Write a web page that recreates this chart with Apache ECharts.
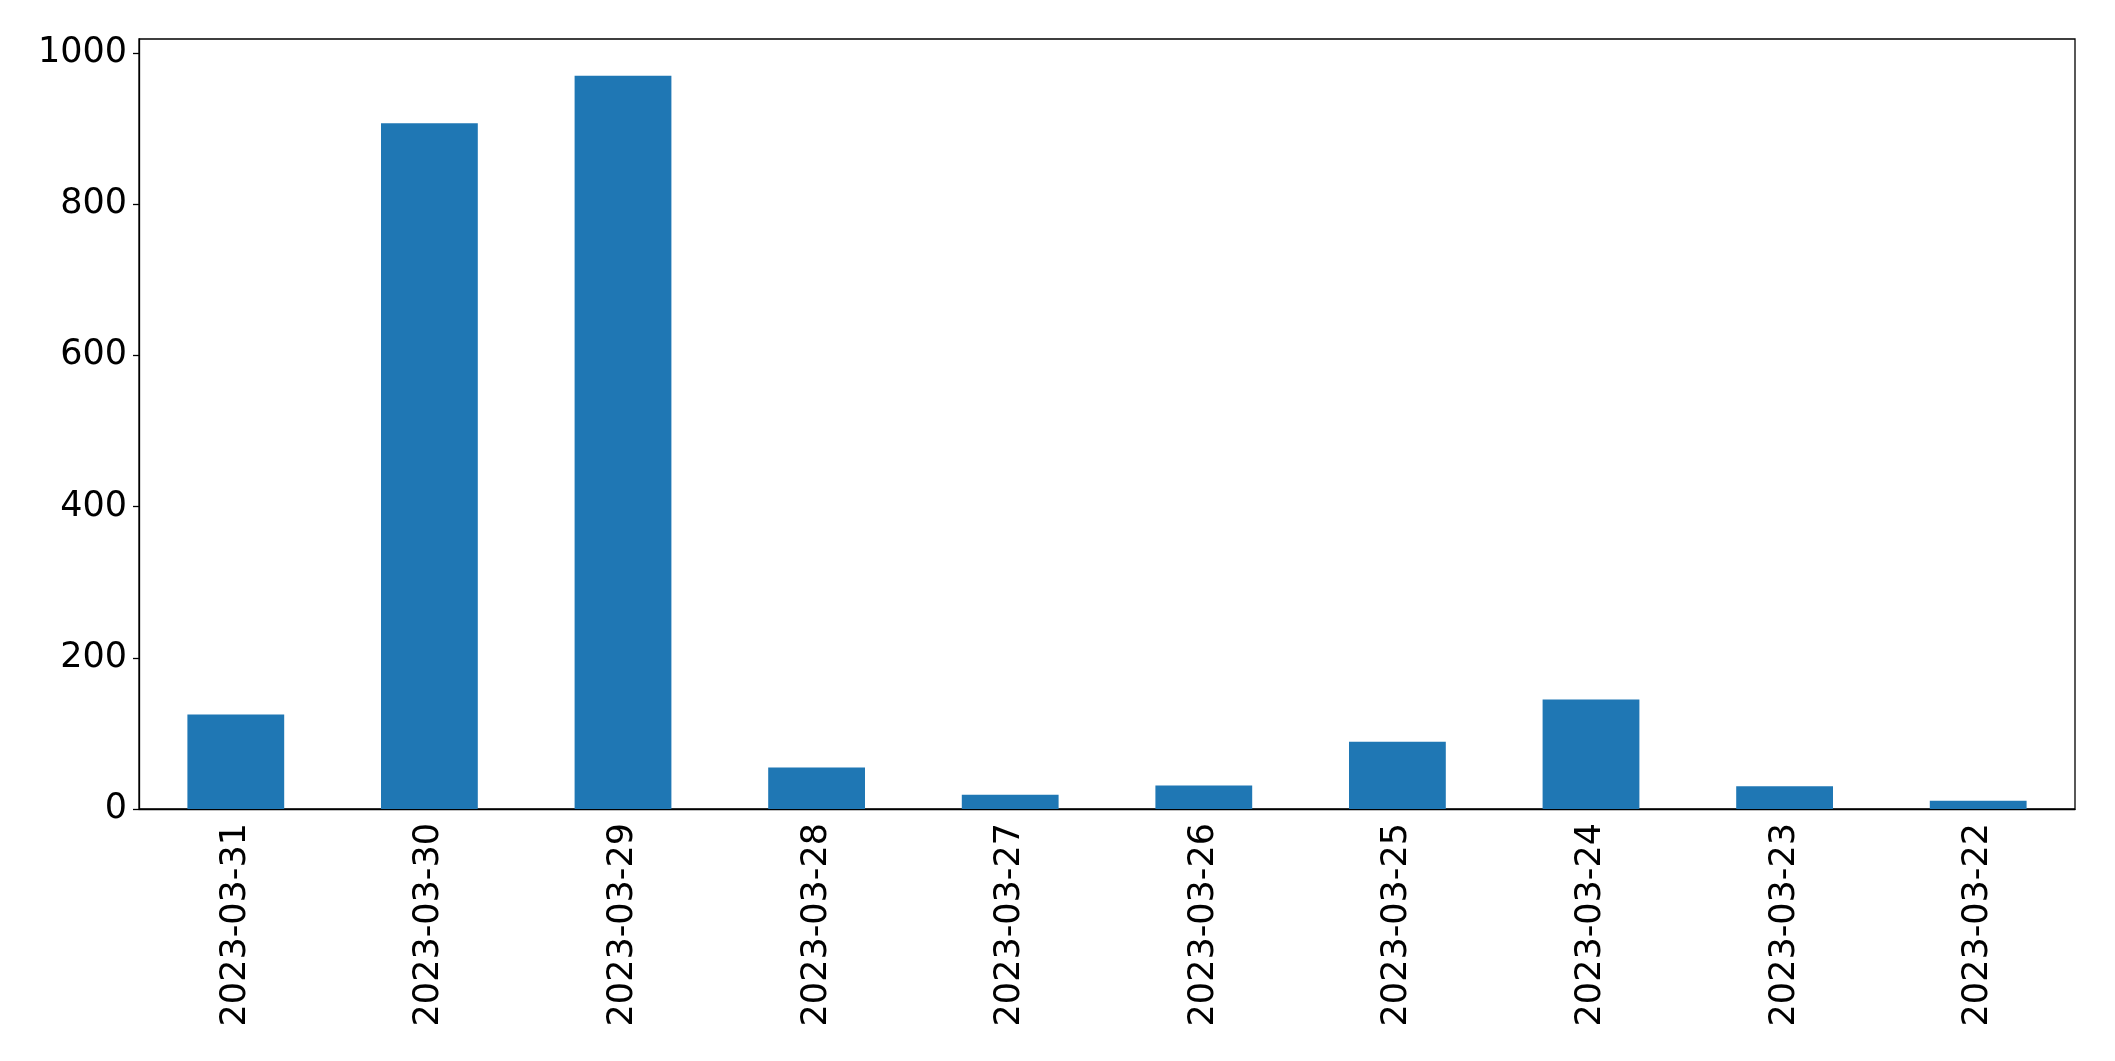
<!DOCTYPE html>
<html>
<head>
<meta charset="utf-8">
<script src="https://cdn.jsdelivr.net/npm/echarts@6/dist/echarts.min.js"></script>
<style>
html,body{margin:0;padding:0;background:#fff;}
#chart{width:2115px;height:1061px;}
</style>
</head>
<body>
<div id="chart"></div>
<script>
const categories = ['2023-03-31','2023-03-30','2023-03-29','2023-03-28','2023-03-27','2023-03-26','2023-03-25','2023-03-24','2023-03-23','2023-03-22'];
const values = [125, 907, 970, 55, 19, 31, 89, 145, 30, 11];
const yTicks = [0, 200, 400, 600, 800, 1000];

const chart = echarts.init(document.getElementById('chart'), null, {renderer: 'canvas'});
const yMax = Math.max(...values) * 1.05;
chart.setOption({
  animation: false,
  textStyle: {fontFamily: 'DejaVu Sans'},
  grid: {left: 139, right: 40, top: 39, bottom: 252, show: true, borderColor: '#000', borderWidth: 1.3, backgroundColor: 'transparent'},
  xAxis: {
    type: 'category',
    data: categories,
    boundaryGap: true,
    axisLine: {lineStyle: {color: '#000', width: 1.3}},
    axisTick: {alignWithLabel: true, length: 6, lineStyle: {color: '#000', width: 1.3}},
    axisLabel: {rotate: 90, color: '#000', fontSize: 35, margin: 14, fontFamily: 'DejaVu Sans', interval: 0},
    splitLine: {show: false}
  },
  yAxis: {
    type: 'value',
    min: 0,
    max: yMax,
    interval: 200,
    axisLine: {show: true, lineStyle: {color: '#000', width: 1.3}},
    axisTick: {show: true, length: 6, lineStyle: {color: '#000', width: 1.3}, customValues: yTicks},
    axisLabel: {color: '#000', fontSize: 35, margin: 12, fontFamily: 'DejaVu Sans', customValues: yTicks,
      formatter: function (v) { return String(v); }},
    splitLine: {show: false}
  },
  series: [{
    type: 'bar',
    data: values,
    barWidth: '50%',
    itemStyle: {color: '#1f77b4'}
  }]
});
</script>
</body>
</html>
